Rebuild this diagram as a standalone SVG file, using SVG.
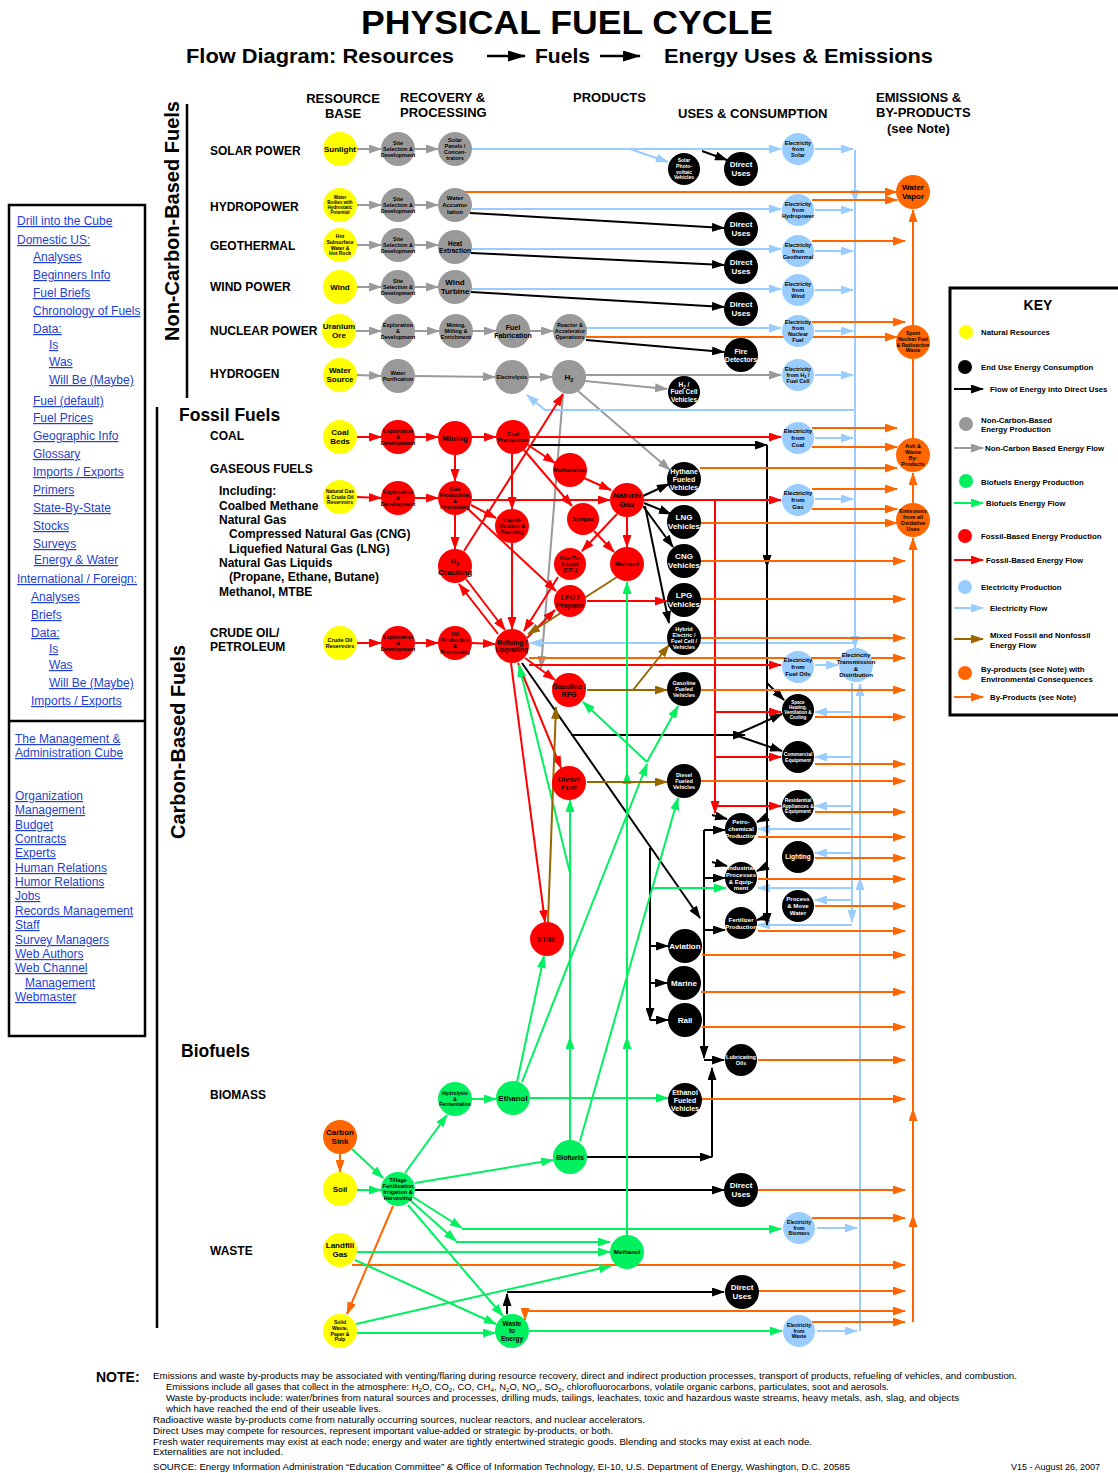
<svg xmlns="http://www.w3.org/2000/svg" width="1118" height="1473" viewBox="0 0 1118 1473">
<style>
text{font-family:"Liberation Sans",Arial,Helvetica,sans-serif}
.t{font-weight:bold;text-anchor:middle;fill:#000}
.w{fill:#fff}
.f45{font-size:4.5px}.f5{font-size:5px}.f55{font-size:5.5px}.f6{font-size:6px}.f65{font-size:6.5px}.f7{font-size:7px}.f75{font-size:7.5px}.f8{font-size:8px}
.cy{fill:#ffff00}.cg{fill:#999999}.cr{fill:#ff0000}.ck{fill:#000}.cb{fill:#99ccff}.cG{fill:#00f060}.co{fill:#ff6600}
.l{fill:none;stroke-width:2}
.lk{stroke:#000;marker-end:url(#mk)}
.lg{stroke:#9a9a9a;marker-end:url(#mg)}
.lr{stroke:#ff0000;marker-end:url(#mr)}
.lb{stroke:#99ccff;marker-end:url(#mb)}
.lo{stroke:#ff6600;marker-end:url(#mo)}
.lG{stroke:#00f060;marker-end:url(#mG)}
.ln{stroke:#996600;marker-end:url(#mn)}
.nm{marker-end:none}
.h1{font-weight:bold;font-size:13px}
.rl{font-weight:bold;font-size:12px}
.sec{font-weight:bold;font-size:17.5px}
.side{font-weight:bold;font-size:20px;text-anchor:middle}
.lnk{font-size:12px;fill:#1f3fcf;text-decoration:underline}
.key{font-weight:bold;font-size:7.8px}
.nt{font-size:9px}
</style>
<defs>
<marker id="mk" markerUnits="userSpaceOnUse" markerWidth="13" markerHeight="9" refX="12" refY="4.5" orient="auto" viewBox="0 0 13 9"><path d="M0,0L13,4.5L0,9z" fill="#000"/></marker>
<marker id="mg" markerUnits="userSpaceOnUse" markerWidth="13" markerHeight="9" refX="12" refY="4.5" orient="auto" viewBox="0 0 13 9"><path d="M0,0L13,4.5L0,9z" fill="#9a9a9a"/></marker>
<marker id="mr" markerUnits="userSpaceOnUse" markerWidth="13" markerHeight="9" refX="12" refY="4.5" orient="auto" viewBox="0 0 13 9"><path d="M0,0L13,4.5L0,9z" fill="#ff0000"/></marker>
<marker id="mb" markerUnits="userSpaceOnUse" markerWidth="13" markerHeight="9" refX="12" refY="4.5" orient="auto" viewBox="0 0 13 9"><path d="M0,0L13,4.5L0,9z" fill="#99ccff"/></marker>
<marker id="mo" markerUnits="userSpaceOnUse" markerWidth="13" markerHeight="9" refX="12" refY="4.5" orient="auto" viewBox="0 0 13 9"><path d="M0,0L13,4.5L0,9z" fill="#ff6600"/></marker>
<marker id="mG" markerUnits="userSpaceOnUse" markerWidth="13" markerHeight="9" refX="12" refY="4.5" orient="auto" viewBox="0 0 13 9"><path d="M0,0L13,4.5L0,9z" fill="#00f060"/></marker>
<marker id="mn" markerUnits="userSpaceOnUse" markerWidth="13" markerHeight="9" refX="12" refY="4.5" orient="auto" viewBox="0 0 13 9"><path d="M0,0L13,4.5L0,9z" fill="#996600"/></marker>
<marker id="mkb" markerUnits="userSpaceOnUse" markerWidth="18" markerHeight="11" refX="17" refY="5.5" orient="auto" viewBox="0 0 18 11"><path d="M0,0L18,5.5L0,11z" fill="#000"/></marker>
</defs>
<rect width="1118" height="1473" fill="#fff"/>

<!-- Titles -->
<g id="titles">
<text x="567" y="34" text-anchor="middle" font-weight="bold" font-size="33" textLength="412" lengthAdjust="spacingAndGlyphs">PHYSICAL FUEL CYCLE</text>
<text x="186" y="63" font-weight="bold" font-size="21" textLength="268" lengthAdjust="spacingAndGlyphs">Flow Diagram: Resources</text>
<text x="535" y="63" font-weight="bold" font-size="21" textLength="55" lengthAdjust="spacingAndGlyphs">Fuels</text>
<text x="664" y="63" font-weight="bold" font-size="21" textLength="269" lengthAdjust="spacingAndGlyphs">Energy Uses &amp; Emissions</text>
<path d="M487,56H525" stroke="#000" stroke-width="2.5" marker-end="url(#mkb)"/>
<path d="M600,56H640" stroke="#000" stroke-width="2.5" marker-end="url(#mkb)"/>
<text class="h1" x="343" y="103" text-anchor="middle">RESOURCE</text>
<text class="h1" x="343" y="118" text-anchor="middle">BASE</text>
<text class="h1" x="400" y="102">RECOVERY &amp;</text>
<text class="h1" x="400" y="117">PROCESSING</text>
<text class="h1" x="573" y="102">PRODUCTS</text>
<text class="h1" x="678" y="118">USES &amp; CONSUMPTION</text>
<text class="h1" x="876" y="102">EMISSIONS &amp;</text>
<text class="h1" x="876" y="117">BY-PRODUCTS</text>
<text class="h1" x="887" y="133">(see Note)</text>
<text class="side" transform="translate(179,221) rotate(-90)" textLength="240" lengthAdjust="spacingAndGlyphs">Non-Carbon-Based Fuels</text>
<text class="side" transform="translate(185,742) rotate(-90)" textLength="194" lengthAdjust="spacingAndGlyphs">Carbon-Based Fuels</text>
<path d="M187,104V398M157,407V1328" stroke="#000" stroke-width="2.5"/>
<text class="rl" x="210" y="155">SOLAR POWER</text>
<text class="rl" x="210" y="211">HYDROPOWER</text>
<text class="rl" x="210" y="250">GEOTHERMAL</text>
<text class="rl" x="210" y="291">WIND POWER</text>
<text class="rl" x="210" y="335">NUCLEAR POWER</text>
<text class="rl" x="210" y="378">HYDROGEN</text>
<text class="sec" x="179" y="421">Fossil Fuels</text>
<text class="rl" x="210" y="440">COAL</text>
<text class="rl" x="210" y="473">GASEOUS FUELS</text>
<text class="rl" x="219" y="495">Including:</text>
<text class="rl" x="219" y="510">Coalbed Methane</text>
<text class="rl" x="219" y="524">Natural Gas</text>
<text class="rl" x="229" y="538">Compressed Natural Gas (CNG)</text>
<text class="rl" x="229" y="553">Liquefied Natural Gas (LNG)</text>
<text class="rl" x="219" y="567">Natural Gas Liquids</text>
<text class="rl" x="229" y="581">(Propane, Ethane, Butane)</text>
<text class="rl" x="219" y="596">Methanol, MTBE</text>
<text class="rl" x="210" y="637">CRUDE OIL/</text>
<text class="rl" x="210" y="651">PETROLEUM</text>
<text class="sec" x="181" y="1057">Biofuels</text>
<text class="rl" x="210" y="1099">BIOMASS</text>
<text class="rl" x="210" y="1255">WASTE</text>
</g>

<!-- Sidebar -->
<g id="sidebar">
<rect x="9" y="205" width="136" height="831" fill="none" stroke="#000" stroke-width="2.5"/>
<path d="M9,721H145" stroke="#000" stroke-width="2.5"/>
<text class="lnk" x="17" y="225">Drill into the Cube</text>
<text class="lnk" x="17" y="244">Domestic US:</text>
<text class="lnk" x="33" y="261">Analyses</text>
<text class="lnk" x="33" y="279">Beginners Info</text>
<text class="lnk" x="33" y="297">Fuel Briefs</text>
<text class="lnk" x="33" y="315">Chronology of Fuels</text>
<text class="lnk" x="33" y="333">Data:</text>
<text class="lnk" x="49" y="349">Is</text>
<text class="lnk" x="49" y="366">Was</text>
<text class="lnk" x="49" y="384">Will Be (Maybe)</text>
<text class="lnk" x="33" y="405">Fuel (default)</text>
<text class="lnk" x="33" y="422">Fuel Prices</text>
<text class="lnk" x="33" y="440">Geographic Info</text>
<text class="lnk" x="33" y="458">Glossary</text>
<text class="lnk" x="33" y="476">Imports / Exports</text>
<text class="lnk" x="33" y="494">Primers</text>
<text class="lnk" x="33" y="512">State-By-State</text>
<text class="lnk" x="33" y="530">Stocks</text>
<text class="lnk" x="33" y="548">Surveys</text>
<text class="lnk" x="34" y="564">Energy &amp; Water</text>
<text class="lnk" x="17" y="583">International / Foreign:</text>
<text class="lnk" x="31" y="601">Analyses</text>
<text class="lnk" x="31" y="619">Briefs</text>
<text class="lnk" x="31" y="637">Data:</text>
<text class="lnk" x="49" y="653">Is</text>
<text class="lnk" x="49" y="669">Was</text>
<text class="lnk" x="49" y="687">Will Be (Maybe)</text>
<text class="lnk" x="31" y="705">Imports / Exports</text>
<text class="lnk" x="15" y="743">The Management &amp;</text>
<text class="lnk" x="15" y="757">Administration Cube</text>
<text class="lnk" x="15" y="800">Organization</text>
<text class="lnk" x="15" y="814">Management</text>
<text class="lnk" x="15" y="829">Budget</text>
<text class="lnk" x="15" y="843">Contracts</text>
<text class="lnk" x="15" y="857">Experts</text>
<text class="lnk" x="15" y="872">Human Relations</text>
<text class="lnk" x="15" y="886">Humor Relations</text>
<text class="lnk" x="15" y="900">Jobs</text>
<text class="lnk" x="15" y="915">Records Management</text>
<text class="lnk" x="15" y="929">Staff</text>
<text class="lnk" x="15" y="944">Survey Managers</text>
<text class="lnk" x="15" y="958">Web Authors</text>
<text class="lnk" x="15" y="972">Web Channel</text>
<text class="lnk" x="25" y="987">Management</text>
<text class="lnk" x="15" y="1001">Webmaster</text>
</g>

<!-- Connectors -->
<g id="connectors">
<!-- gray: non-carbon energy flow -->
<path class="l lg" d="M357,149H381"/><path class="l lg" d="M415,149H438"/>
<path class="l lg" d="M357,205H381"/><path class="l lg" d="M415,205H438"/>
<path class="l lg" d="M357,245H381"/><path class="l lg" d="M415,245H438"/>
<path class="l lg" d="M357,287H381"/><path class="l lg" d="M415,287H438"/>
<path class="l lg" d="M356,331H381"/><path class="l lg" d="M415,331H439"/><path class="l lg" d="M473,331H496"/><path class="l lg" d="M530,331H553"/>
<path class="l lg" d="M357,375L381,376"/><path class="l lg" d="M415,376L495,377"/><path class="l lg" d="M529,377H552"/>
<path class="l lg" d="M586,375H781"/><path class="l lg" d="M585,381L667,389"/><path class="l lg" d="M578,391L670,470"/><path class="l lg" d="M563,394L541,668"/>
<!-- light blue: electricity flow -->
<path class="l lb" d="M472,149H781"/><path class="l lb" d="M630,149L668,162"/><path class="l lb" d="M815,149H853"/>
<path class="l lb" d="M855,150V202"/><path class="l lb" d="M855,202V648"/>
<path class="l lb" d="M472,209H781"/><path class="l lb" d="M815,210H853"/>
<path class="l lb" d="M472,249H781"/><path class="l lb" d="M815,251H853"/>
<path class="l lb" d="M472,289H781"/><path class="l lb" d="M815,290H853"/>
<path class="l lb" d="M586,328H781"/><path class="l lb" d="M815,331H853"/>
<path class="l lb" d="M815,375H853"/>
<path class="l lb" d="M855,410H545L527,395"/>
<path class="l lb" d="M815,438H853"/><path class="l lb" d="M815,499H853"/>
<path class="l lb" d="M855,643H530"/><path class="l lb" d="M815,665H838"/>
<path class="l lb" d="M852,683V922"/>
<path class="l lb" d="M852,712H815"/><path class="l lb" d="M852,757H815"/><path class="l lb" d="M852,806H815"/><path class="l lb" d="M852,829H758"/>
<path class="l lb" d="M852,853H815"/><path class="l lb" d="M852,888H758"/><path class="l lb" d="M852,900H815"/><path class="l lb" d="M852,925H758"/>
<path class="l lb" d="M860,1331V878"/><path class="l lb" d="M860,878V684"/>
<path class="l lb" d="M817,1228H857"/><path class="l lb" d="M817,1331H857"/>
<!-- black: flow into direct uses -->
<path class="l lk" d="M702,151L727,160"/>
<path class="l lk" d="M470,213L724,228"/><path class="l lk" d="M471,253L724,265"/><path class="l lk" d="M471,292L724,307"/><path class="l lk" d="M586,340L724,352"/>
<path class="l lk" d="M530,445H767"/><path class="l lk" d="M767,445V567"/><path class="l lk" d="M767,567V925"/>
<path class="l lk" d="M767,683L784,700"/><path class="l lk" d="M767,817L757,822"/><path class="l lk" d="M767,866L757,871"/><path class="l lk" d="M767,917L757,920"/>
<path class="l lk" d="M643,496L669,484"/><path class="l lk" d="M644,503L671,514"/><path class="l lk" d="M643,506L673,547"/><path class="l lk" d="M645,506L669,623"/>
<path class="l lk" d="M522,663L700,918"/>
<path class="l lk" d="M571,735H745"/><path class="l lk" d="M735,735L782,714"/><path class="l lk" d="M735,735L782,751"/>
<path class="l lk" d="M704,830V1058"/><path class="l lk" d="M704,830H725"/><path class="l lk" d="M704,878H725"/><path class="l lk" d="M704,930H725"/><path class="l lk" d="M704,1060H724"/>
<path class="l lk" d="M650,848V1020"/><path class="l lk" d="M650,946H668"/><path class="l lk" d="M650,983H667"/><path class="l lk" d="M650,1020H668"/>
<path class="l lk" d="M587,1157H712"/><path class="l lk" d="M712,1157V1068"/>
<path class="l lk" d="M415,1190H724"/>
<path class="l lk" d="M507,1314V1294"/><path class="l lk" d="M507,1292H724"/>
<path class="l lk" d="M712,815L727,819"/><path class="l lk" d="M712,862L727,866"/>
<!-- red: fossil flow -->
<path class="l lr" d="M357,437H381"/><path class="l lr" d="M415,437H438"/><path class="l lr" d="M472,437H496"/>
<path class="l lr" d="M357,497L381,498"/><path class="l lr" d="M415,498H438"/>
<path class="l lr" d="M357,643H381"/><path class="l lr" d="M415,643H438"/><path class="l lr" d="M472,643L495,644"/>
<path class="l lr" d="M455,455V481"/><path class="l lr" d="M455,515V549"/>
<path class="l lr" d="M512,454V509"/><path class="l lr" d="M512,543V629"/>
<path class="l lr" d="M471,505L496,518"/><path class="l lr" d="M468,509L556,591"/><path class="l lr" d="M472,500H610"/>
<path class="l lr" d="M530,437H781"/><path class="l lr" d="M528,445L555,463"/><path class="l lr" d="M524,450L572,506"/>
<path class="l lr" d="M584,478L611,490"/><path class="l lr" d="M594,531L614,552"/><path class="l lr" d="M617,514L582,551"/><path class="l lr" d="M627,517V547"/>
<path class="l lr" d="M558,577L524,631"/><path class="l lr" d="M527,638L555,610"/><path class="l lr" d="M587,601H667"/>
<path class="l lr" d="M464,551L563,394"/><path class="l lr" d="M466,579L505,630"/><path class="l lr" d="M498,634L459,584"/>
<path class="l lr" d="M643,500H781"/>
<path class="l lr" d="M715,500V813"/><path class="l lr" d="M715,712H781"/><path class="l lr" d="M715,757H781"/><path class="l lr" d="M715,806H781"/>
<path class="l lr" d="M525,658L555,680"/><path class="l lr" d="M518,663L561,768"/><path class="l lr" d="M511,663L545,922"/><path class="l lr" d="M529,665H781"/>
<!-- orange: by-products -->
<path class="l lo" d="M465,192H897"/><path class="l lo" d="M812,200H897"/><path class="l lo" d="M812,241H905"/><path class="l lo" d="M812,322H905"/><path class="l lo" d="M586,337H897"/>
<path class="l lo" d="M913,325V210"/><path class="l lo nm" d="M913,438V359"/>
<path class="l lo" d="M913,1322V1215"/><path class="l lo" d="M913,1215V1109"/><path class="l lo" d="M913,1109V538"/><path class="l lo" d="M913,503V473"/>
<path class="l lo" d="M812,428H897"/><path class="l lo" d="M812,447H897"/><path class="l lo" d="M700,468H897"/>
<path class="l lo" d="M812,489H897"/><path class="l lo" d="M812,509H897"/><path class="l lo" d="M701,523H897"/>
<path class="l lo" d="M701,561H905"/><path class="l lo" d="M701,599H905"/><path class="l lo" d="M701,638H905"/><path class="l lo" d="M529,658H905"/>
<path class="l lo" d="M701,690H905"/><path class="l lo" d="M815,717H905"/><path class="l lo" d="M815,764H905"/><path class="l lo" d="M701,781H905"/>
<path class="l lo" d="M815,812H905"/><path class="l lo" d="M758,837H905"/><path class="l lo" d="M815,858H905"/><path class="l lo" d="M758,879H905"/>
<path class="l lo" d="M815,906H905"/><path class="l lo" d="M758,931H905"/><path class="l lo" d="M702,955H905"/><path class="l lo" d="M701,992H905"/>
<path class="l lo" d="M702,1027H905"/><path class="l lo" d="M758,1060H905"/><path class="l lo" d="M702,1099H905"/><path class="l lo" d="M758,1190H905"/>
<path class="l lo" d="M812,1218H905"/><path class="l lo" d="M352,1265H905"/><path class="l lo" d="M759,1291H905"/>
<path class="l lo" d="M525,1311H905"/><path class="l lo" d="M525,1311V1320"/><path class="l lo" d="M812,1322H905"/>
<path class="l lo" d="M340,1154V1172"/><path class="l lo" d="M393,1206L347,1314"/>
<!-- green: biofuels flow -->
<path class="l lG" d="M352,1149L383,1178"/><path class="l lG" d="M357,1190H381"/><path class="l lG" d="M405,1173L447,1115"/><path class="l lG" d="M472,1099H496"/>
<path class="l lG" d="M415,1183L553,1160"/>
<path class="l lG" d="M413,1197L462,1228"/><path class="l lG" d="M462,1229H781"/>
<path class="l lG" d="M411,1201L456,1241"/><path class="l lG" d="M456,1242H610"/>
<path class="l lG" d="M357,1252H610"/><path class="l lG" d="M355,1260L496,1324"/><path class="l lG" d="M408,1205L503,1316"/>
<path class="l lG" d="M356,1324L611,1266"/><path class="l lG" d="M357,1333H495"/><path class="l lG" d="M529,1331H782"/>
<path class="l lG" d="M530,1098H668"/><path class="l lG" d="M517,1082L544,956"/>
<path class="l lG" d="M522,1082L647,764"/><path class="l lG" d="M647,762L678,706"/><path class="l lG" d="M647,762L583,702"/>
<path class="l lG" d="M570,1140V1037"/><path class="l lG" d="M570,1037V800"/>
<path class="l lG" d="M580,1141L678,798"/><path class="l lG" d="M570,873L519,665"/>
<path class="l lG" d="M627,1235V1037"/><path class="l lG" d="M627,1037V772"/><path class="l lG" d="M627,772V582"/>
<path class="l lG" d="M651,888H726"/>
<!-- brown: mixed flow -->
<path class="l ln" d="M617,577L528,634"/><path class="l ln" d="M587,690H667"/><path class="l ln" d="M633,690L669,645"/><path class="l ln" d="M548,922L556,707"/><path class="l ln" d="M587,782H667"/>
</g>

<!-- Nodes: non-carbon -->
<g id="n-sunlight"><circle class="cy" cx="340" cy="149" r="17"/><text class="t f8" x="340" y="151.9">Sunlight</text></g>
<g id="n-site1"><circle class="cg" cx="398" cy="149" r="17"/><text class="t f55" x="398" y="144.7"><tspan x="398">Site</tspan><tspan x="398" dy="6.3">Selection &amp;</tspan><tspan x="398" dy="6.3">Development</tspan></text></g>
<g id="n-solar-panels"><circle class="cg" cx="455" cy="149" r="17"/><text class="t f55" x="455" y="141.5"><tspan x="455">Solar</tspan><tspan x="455" dy="6.3">Panels /</tspan><tspan x="455" dy="6.3">Concen-</tspan><tspan x="455" dy="6.3">trators</tspan></text></g>
<g id="n-water-bodies"><circle class="cy" cx="340" cy="205" r="17"/><text class="t f45" x="340" y="198.8"><tspan x="340">Water</tspan><tspan x="340" dy="5.2">Bodies with</tspan><tspan x="340" dy="5.2">Hydrostatic</tspan><tspan x="340" dy="5.2">Potential</tspan></text></g>
<g id="n-site2"><circle class="cg" cx="398" cy="205" r="17"/><text class="t f55" x="398" y="200.7"><tspan x="398">Site</tspan><tspan x="398" dy="6.3">Selection &amp;</tspan><tspan x="398" dy="6.3">Development</tspan></text></g>
<g id="n-water-accum"><circle class="cg" cx="455" cy="205" r="17"/><text class="t f6" x="455" y="200.3"><tspan x="455">Water</tspan><tspan x="455" dy="6.8">Accumu-</tspan><tspan x="455" dy="6.8">lation</tspan></text></g>
<g id="n-hot-rock"><circle class="cy" cx="340" cy="245" r="17"/><text class="t f5" x="340" y="238.4"><tspan x="340">Hot</tspan><tspan x="340" dy="5.6">Subsurface</tspan><tspan x="340" dy="5.6">Water &amp;</tspan><tspan x="340" dy="5.6">Hot Rock</tspan></text></g>
<g id="n-site3"><circle class="cg" cx="398" cy="245" r="17"/><text class="t f55" x="398" y="240.7"><tspan x="398">Site</tspan><tspan x="398" dy="6.3">Selection &amp;</tspan><tspan x="398" dy="6.3">Development</tspan></text></g>
<g id="n-heat-ext"><circle class="cg" cx="455" cy="247" r="17"/><text class="t f65" x="455" y="245.7"><tspan x="455">Heat</tspan><tspan x="455" dy="7.2">Extraction</tspan></text></g>
<g id="n-wind"><circle class="cy" cx="340" cy="287" r="17"/><text class="t f8" x="340" y="289.9">Wind</text></g>
<g id="n-site4"><circle class="cg" cx="398" cy="287" r="17"/><text class="t f55" x="398" y="282.7"><tspan x="398">Site</tspan><tspan x="398" dy="6.3">Selection &amp;</tspan><tspan x="398" dy="6.3">Development</tspan></text></g>
<g id="n-wind-turbine"><circle class="cg" cx="455" cy="287" r="17"/><text class="t f8" x="455" y="285.4"><tspan x="455">Wind</tspan><tspan x="455" dy="9">Turbine</tspan></text></g>
<g id="n-uranium"><circle class="cy" cx="339" cy="331" r="17"/><text class="t f8" x="339" y="329.4"><tspan x="339">Uranium</tspan><tspan x="339" dy="9">Ore</tspan></text></g>
<g id="n-expl-n"><circle class="cg" cx="398" cy="331" r="17"/><text class="t f55" x="398" y="326.7"><tspan x="398">Exploration</tspan><tspan x="398" dy="6.3">&amp;</tspan><tspan x="398" dy="6.3">Development</tspan></text></g>
<g id="n-mining-n"><circle class="cg" cx="456" cy="331" r="17"/><text class="t f55" x="456" y="326.7"><tspan x="456">Mining,</tspan><tspan x="456" dy="6.3">Milling &amp;</tspan><tspan x="456" dy="6.3">Enrichment</tspan></text></g>
<g id="n-fuel-fab"><circle class="cg" cx="513" cy="331" r="17"/><text class="t f7" x="513" y="329.5"><tspan x="513">Fuel</tspan><tspan x="513" dy="8">Fabrication</tspan></text></g>
<g id="n-reactor"><circle class="cg" cx="570" cy="331" r="17"/><text class="t f55" x="570" y="326.7"><tspan x="570">Reactor &amp;</tspan><tspan x="570" dy="6.3">Accelerator</tspan><tspan x="570" dy="6.3">Operations</tspan></text></g>
<g id="n-water-source"><circle class="cy" cx="340" cy="375" r="17"/><text class="t f8" x="340" y="373.4"><tspan x="340">Water</tspan><tspan x="340" dy="9">Source</tspan></text></g>
<g id="n-water-purif"><circle class="cg" cx="398" cy="376" r="17"/><text class="t f55" x="398" y="374.8"><tspan x="398">Water</tspan><tspan x="398" dy="6.3">Purification</tspan></text></g>
<g id="n-electrolysis"><circle class="cg" cx="512" cy="377" r="17"/><text class="t f55" x="512" y="379">Electrolysis</text></g>
<g id="n-h2"><circle class="cg" cx="569" cy="377" r="17"/><text class="t f8" x="569" y="380">H<tspan font-size="5.5" dy="2">2</tspan></text></g>
<g id="n-pv-vehicles"><circle class="ck" cx="684" cy="169" r="16"/><text class="t w f5" x="684" y="162.4"><tspan x="684">Solar</tspan><tspan x="684" dy="5.6">Photo-</tspan><tspan x="684" dy="5.6">voltaic</tspan><tspan x="684" dy="5.6">Vehicles</tspan></text></g>
<g id="n-direct1"><circle class="ck" cx="741" cy="169" r="17"/><text class="t w f8" x="741" y="167.4"><tspan x="741">Direct</tspan><tspan x="741" dy="9">Uses</tspan></text></g>
<g id="n-elec-solar"><circle class="cb" cx="798" cy="149" r="16"/><text class="t f55" x="798" y="144.7"><tspan x="798">Electricity</tspan><tspan x="798" dy="6.3">from</tspan><tspan x="798" dy="6.3">Solar</tspan></text></g>
<g id="n-direct2"><circle class="ck" cx="741" cy="229" r="17"/><text class="t w f8" x="741" y="227.4"><tspan x="741">Direct</tspan><tspan x="741" dy="9">Uses</tspan></text></g>
<g id="n-elec-hydro"><circle class="cb" cx="798" cy="210" r="16"/><text class="t f55" x="798" y="205.7"><tspan x="798">Electricity</tspan><tspan x="798" dy="6.3">from</tspan><tspan x="798" dy="6.3">Hydropower</tspan></text></g>
<g id="n-direct3"><circle class="ck" cx="741" cy="267" r="17"/><text class="t w f8" x="741" y="265.4"><tspan x="741">Direct</tspan><tspan x="741" dy="9">Uses</tspan></text></g>
<g id="n-elec-geo"><circle class="cb" cx="798" cy="251" r="16"/><text class="t f55" x="798" y="246.7"><tspan x="798">Electricity</tspan><tspan x="798" dy="6.3">from</tspan><tspan x="798" dy="6.3">Geothermal</tspan></text></g>
<g id="n-direct4"><circle class="ck" cx="741" cy="309" r="17"/><text class="t w f8" x="741" y="307.4"><tspan x="741">Direct</tspan><tspan x="741" dy="9">Uses</tspan></text></g>
<g id="n-elec-wind"><circle class="cb" cx="798" cy="290" r="16"/><text class="t f55" x="798" y="285.7"><tspan x="798">Electricity</tspan><tspan x="798" dy="6.3">from</tspan><tspan x="798" dy="6.3">Wind</tspan></text></g>
<g id="n-fire"><circle class="ck" cx="741" cy="355" r="17"/><text class="t w f7" x="741" y="353.5"><tspan x="741">Fire</tspan><tspan x="741" dy="8">Detectors</tspan></text></g>
<g id="n-elec-nuclear"><circle class="cb" cx="798" cy="331" r="16"/><text class="t f55" x="798" y="323.5"><tspan x="798">Electricity</tspan><tspan x="798" dy="6.3">from</tspan><tspan x="798" dy="6.3">Nuclear</tspan><tspan x="798" dy="6.3">Fuel</tspan></text></g>
<g id="n-h2-fc-vehicles"><circle class="ck" cx="684" cy="392" r="16"/><text class="t w f65" x="684" y="387.1"><tspan x="684">H<tspan font-size="4.5" dy="1.5">2</tspan><tspan dy="-1.5"> /</tspan></tspan><tspan x="684" dy="7.2">Fuel Cell</tspan><tspan x="684" dy="7.2">Vehicles</tspan></text></g>
<g id="n-elec-h2"><circle class="cb" cx="798" cy="375" r="16"/><text class="t f55" x="798" y="370.7"><tspan x="798">Electricity</tspan><tspan x="798" dy="6.3">from H<tspan font-size="4" dy="1.2">2</tspan><tspan dy="-1.2"> /</tspan></tspan><tspan x="798" dy="6.3">Fuel Cell</tspan></text></g>
<g id="n-water-vapor"><circle class="co" cx="913" cy="192" r="17"/><text class="t f8" x="913" y="190.4"><tspan x="913">Water</tspan><tspan x="913" dy="9">Vapor</tspan></text></g>
<g id="n-spent-nuclear"><circle class="co" cx="913" cy="342" r="17"/><text class="t f5" x="913" y="335.4"><tspan x="913">Spent</tspan><tspan x="913" dy="5.6">Nuclear Fuel</tspan><tspan x="913" dy="5.6">&amp; Radioactive</tspan><tspan x="913" dy="5.6">Waste</tspan></text></g>

<!-- Nodes: fossil -->
<g id="n-coal-beds"><circle class="cy" cx="340" cy="437" r="17"/><text class="t f8" x="340" y="435.4"><tspan x="340">Coal</tspan><tspan x="340" dy="9">Beds</tspan></text></g>
<g id="n-expl-c"><circle class="cr" cx="398" cy="437" r="17"/><text class="t f55" x="398" y="432.7"><tspan x="398">Exploration</tspan><tspan x="398" dy="6.3">&amp;</tspan><tspan x="398" dy="6.3">Development</tspan></text></g>
<g id="n-mining-c"><circle class="cr" cx="455" cy="438" r="17"/><text class="t f8" x="455" y="440.9">Mining</text></g>
<g id="n-coal-prep"><circle class="cr" cx="513" cy="437" r="17"/><text class="t f55" x="513" y="435.8"><tspan x="513">Coal</tspan><tspan x="513" dy="6.3">Preparation</tspan></text></g>
<g id="n-gas-res"><circle class="cy" cx="340" cy="497" r="17"/><text class="t f5" x="340" y="493.2"><tspan x="340">Natural Gas</tspan><tspan x="340" dy="5.6">&amp; Crude Oil</tspan><tspan x="340" dy="5.6">Reservoirs</tspan></text></g>
<g id="n-expl-g"><circle class="cr" cx="398" cy="498" r="17"/><text class="t f55" x="398" y="493.7"><tspan x="398">Exploration</tspan><tspan x="398" dy="6.3">&amp;</tspan><tspan x="398" dy="6.3">Development</tspan></text></g>
<g id="n-gas-prod"><circle class="cr" cx="455" cy="498" r="17"/><text class="t f55" x="455" y="490.5"><tspan x="455">Gas</tspan><tspan x="455" dy="6.3">Production,</tspan><tspan x="455" dy="6.3">&amp;</tspan><tspan x="455" dy="6.3">Processing</tspan></text></g>
<g id="n-methanation"><circle class="cr" cx="570" cy="470" r="17"/><text class="t f55" x="570" y="472">Methanation</text></g>
<g id="n-natural-gas"><circle class="cr" cx="627" cy="500" r="17"/><text class="t f8" x="627" y="498.4"><tspan x="627">Natural</tspan><tspan x="627" dy="9">Gas</tspan></text></g>
<g id="n-syngas"><circle class="cr" cx="583" cy="519" r="16"/><text class="t f6" x="583" y="521">Syngas</text></g>
<g id="n-liquif"><circle class="cr" cx="512" cy="526" r="17"/><text class="t f55" x="512" y="521.7"><tspan x="512">Liquid-</tspan><tspan x="512" dy="6.3">ification &amp;</tspan><tspan x="512" dy="6.3">Blending</tspan></text></g>
<g id="n-h2-cracking"><circle class="cr" cx="455" cy="566" r="17"/><text class="t f8" x="455" y="564.4"><tspan x="455">H<tspan font-size="5.5" dy="2">2</tspan></tspan><tspan x="455" dy="9">Cracking</tspan></text></g>
<g id="n-gtl"><circle class="cr" cx="570" cy="564" r="16"/><text class="t f55" x="570" y="559.7"><tspan x="570">Gas-To-</tspan><tspan x="570" dy="6.3">Liquid</tspan><tspan x="570" dy="6.3">(GTL)</tspan></text></g>
<g id="n-methanol-r"><circle class="cr" cx="627" cy="564" r="17"/><text class="t f55" x="627" y="566">Methanol</text></g>
<g id="n-lpg"><circle class="cr" cx="570" cy="601" r="16"/><text class="t f7" x="570" y="599.5"><tspan x="570">LPG /</tspan><tspan x="570" dy="8">Propane</tspan></text></g>
<g id="n-crude-res"><circle class="cy" cx="340" cy="643" r="17"/><text class="t f55" x="340" y="641.8"><tspan x="340">Crude Oil</tspan><tspan x="340" dy="6.3">Reservoirs</tspan></text></g>
<g id="n-expl-o"><circle class="cr" cx="398" cy="643" r="17"/><text class="t f55" x="398" y="638.7"><tspan x="398">Exploration</tspan><tspan x="398" dy="6.3">&amp;</tspan><tspan x="398" dy="6.3">Development</tspan></text></g>
<g id="n-oil-prod"><circle class="cr" cx="455" cy="643" r="17"/><text class="t f55" x="455" y="635.5"><tspan x="455">Oil</tspan><tspan x="455" dy="6.3">Production</tspan><tspan x="455" dy="6.3">&amp;</tspan><tspan x="455" dy="6.3">Processing</tspan></text></g>
<g id="n-refining"><circle class="cr" cx="512" cy="646" r="17"/><text class="t f65" x="512" y="644.7"><tspan x="512">Refining /</tspan><tspan x="512" dy="7.2">Upgrading</tspan></text></g>
<g id="n-gasoline"><circle class="cr" cx="569" cy="690" r="17"/><text class="t f7" x="569" y="688.5"><tspan x="569">Gasoline /</tspan><tspan x="569" dy="8">RFG</tspan></text></g>
<g id="n-diesel"><circle class="cr" cx="569" cy="783" r="17"/><text class="t f75" x="569" y="781.5"><tspan x="569">Diesel</tspan><tspan x="569" dy="8.3">Fuel</tspan></text></g>
<g id="n-etbe"><circle class="cr" cx="547" cy="939" r="17"/><text class="t f7" x="547" y="941.5">ETBE</text></g>

<!-- Nodes: end uses -->
<g id="n-hythane"><circle class="ck" cx="684" cy="479" r="17"/><text class="t w f7" x="684" y="473.5"><tspan x="684">Hythane</tspan><tspan x="684" dy="8">Fueled</tspan><tspan x="684" dy="8">Vehicles</tspan></text></g>
<g id="n-lng-veh"><circle class="ck" cx="684" cy="522" r="17"/><text class="t w f8" x="684" y="520.4"><tspan x="684">LNG</tspan><tspan x="684" dy="9">Vehicles</tspan></text></g>
<g id="n-cng-veh"><circle class="ck" cx="684" cy="561" r="17"/><text class="t w f8" x="684" y="559.4"><tspan x="684">CNG</tspan><tspan x="684" dy="9">Vehicles</tspan></text></g>
<g id="n-lpg-veh"><circle class="ck" cx="684" cy="600" r="17"/><text class="t w f8" x="684" y="598.4"><tspan x="684">LPG</tspan><tspan x="684" dy="9">Vehicles</tspan></text></g>
<g id="n-hybrid"><circle class="ck" cx="684" cy="638" r="17"/><text class="t w f55" x="684" y="630.5"><tspan x="684">Hybrid</tspan><tspan x="684" dy="6.3">Electric /</tspan><tspan x="684" dy="6.3">Fuel Cell /</tspan><tspan x="684" dy="6.3">Vehicles</tspan></text></g>
<g id="n-gasoline-veh"><circle class="ck" cx="684" cy="689" r="17"/><text class="t w f55" x="684" y="684.7"><tspan x="684">Gasoline</tspan><tspan x="684" dy="6.3">Fueled</tspan><tspan x="684" dy="6.3">Vehicles</tspan></text></g>
<g id="n-diesel-veh"><circle class="ck" cx="684" cy="781" r="17"/><text class="t w f55" x="684" y="776.7"><tspan x="684">Diesel</tspan><tspan x="684" dy="6.3">Fueled</tspan><tspan x="684" dy="6.3">Vehicles</tspan></text></g>
<g id="n-space-heating"><circle class="ck" cx="798" cy="710" r="16"/><text class="t w f45" x="798" y="703.8"><tspan x="798">Space</tspan><tspan x="798" dy="5.2">Heating,</tspan><tspan x="798" dy="5.2">Ventilation &amp;</tspan><tspan x="798" dy="5.2">Cooling</tspan></text></g>
<g id="n-commercial"><circle class="ck" cx="798" cy="757" r="16"/><text class="t w f5" x="798" y="756"><tspan x="798">Commercial</tspan><tspan x="798" dy="5.6">Equipment</tspan></text></g>
<g id="n-residential"><circle class="ck" cx="798" cy="806" r="16"/><text class="t w f5" x="798" y="802.2"><tspan x="798">Residential</tspan><tspan x="798" dy="5.6">Appliances &amp;</tspan><tspan x="798" dy="5.6">Equipment</tspan></text></g>
<g id="n-petro"><circle class="ck" cx="741" cy="829" r="16"/><text class="t w f6" x="741" y="824.3"><tspan x="741">Petro-</tspan><tspan x="741" dy="6.8">chemical</tspan><tspan x="741" dy="6.8">Production</tspan></text></g>
<g id="n-lighting"><circle class="ck" cx="798" cy="857" r="16"/><text class="t w f65" x="798" y="859.3">Lighting</text></g>
<g id="n-industrial"><circle class="ck" cx="741" cy="878" r="16"/><text class="t w f6" x="741" y="869.9"><tspan x="741">Industrial</tspan><tspan x="741" dy="6.8">Processes</tspan><tspan x="741" dy="6.8">&amp; Equip-</tspan><tspan x="741" dy="6.8">ment</tspan></text></g>
<g id="n-process-water"><circle class="ck" cx="798" cy="906" r="16"/><text class="t w f6" x="798" y="901.3"><tspan x="798">Process</tspan><tspan x="798" dy="6.8">&amp; Move</tspan><tspan x="798" dy="6.8">Water</tspan></text></g>
<g id="n-fertilizer"><circle class="ck" cx="741" cy="923" r="16"/><text class="t w f6" x="741" y="921.7"><tspan x="741">Fertilizer</tspan><tspan x="741" dy="6.8">Production</tspan></text></g>
<g id="n-aviation"><circle class="ck" cx="685" cy="946" r="17"/><text class="t w f8" x="685" y="948.9">Aviation</text></g>
<g id="n-marine"><circle class="ck" cx="684" cy="983" r="17"/><text class="t w f8" x="684" y="985.9">Marine</text></g>
<g id="n-rail"><circle class="ck" cx="685" cy="1020" r="17"/><text class="t w f8" x="685" y="1022.9">Rail</text></g>
<g id="n-lubricating"><circle class="ck" cx="741" cy="1060" r="16"/><text class="t w f55" x="741" y="1058.8"><tspan x="741">Lubricating</tspan><tspan x="741" dy="6.3">Oils</tspan></text></g>
<g id="n-ethanol-veh"><circle class="ck" cx="685" cy="1100" r="17"/><text class="t w f7" x="685" y="1094.5"><tspan x="685">Ethanol</tspan><tspan x="685" dy="8">Fueled</tspan><tspan x="685" dy="8">Vehicles</tspan></text></g>
<g id="n-direct5"><circle class="ck" cx="741" cy="1190" r="17"/><text class="t w f8" x="741" y="1188.4"><tspan x="741">Direct</tspan><tspan x="741" dy="9">Uses</tspan></text></g>
<g id="n-direct6"><circle class="ck" cx="742" cy="1292" r="17"/><text class="t w f8" x="742" y="1290.4"><tspan x="742">Direct</tspan><tspan x="742" dy="9">Uses</tspan></text></g>

<!-- Nodes: electricity -->
<g id="n-elec-coal"><circle class="cb" cx="798" cy="438" r="16"/><text class="t f6" x="798" y="433.3"><tspan x="798">Electricity</tspan><tspan x="798" dy="6.8">from</tspan><tspan x="798" dy="6.8">Coal</tspan></text></g>
<g id="n-elec-gas"><circle class="cb" cx="798" cy="500" r="16"/><text class="t f6" x="798" y="495.3"><tspan x="798">Electricity</tspan><tspan x="798" dy="6.8">from</tspan><tspan x="798" dy="6.8">Gas</tspan></text></g>
<g id="n-elec-fuel-oils"><circle class="cb" cx="798" cy="667" r="16"/><text class="t f6" x="798" y="662.3"><tspan x="798">Electricity</tspan><tspan x="798" dy="6.8">from</tspan><tspan x="798" dy="6.8">Fuel Oils</tspan></text></g>
<g id="n-transmission"><circle class="cb" cx="856" cy="665" r="17"/><text class="t f6" x="856" y="656.9"><tspan x="856">Electricity</tspan><tspan x="856" dy="6.8">Transmission</tspan><tspan x="856" dy="6.8">&amp;</tspan><tspan x="856" dy="6.8">Distribution</tspan></text></g>
<g id="n-elec-biomass"><circle class="cb" cx="799" cy="1228" r="16"/><text class="t f5" x="799" y="1224.2"><tspan x="799">Electricity</tspan><tspan x="799" dy="5.6">from</tspan><tspan x="799" dy="5.6">Biomass</tspan></text></g>
<g id="n-elec-waste"><circle class="cb" cx="799" cy="1331" r="16"/><text class="t f5" x="799" y="1327.2"><tspan x="799">Electricity</tspan><tspan x="799" dy="5.6">from</tspan><tspan x="799" dy="5.6">Waste</tspan></text></g>

<!-- Nodes: by-products -->
<g id="n-ash"><circle class="co" cx="913" cy="455" r="17"/><text class="t f55" x="913" y="447.5"><tspan x="913">Ash &amp;</tspan><tspan x="913" dy="6.3">Waste</tspan><tspan x="913" dy="6.3">By-</tspan><tspan x="913" dy="6.3">Products</tspan></text></g>
<g id="n-emissions"><circle class="co" cx="913" cy="520" r="17"/><text class="t f55" x="913" y="512.5"><tspan x="913">Emissions</tspan><tspan x="913" dy="6.3">from all</tspan><tspan x="913" dy="6.3">Oxidative</tspan><tspan x="913" dy="6.3">Uses</tspan></text></g>
<g id="n-carbon-sink"><circle class="co" cx="340" cy="1137" r="17"/><text class="t f8" x="340" y="1135.4"><tspan x="340">Carbon</tspan><tspan x="340" dy="9">Sink</tspan></text></g>

<!-- Nodes: biofuels -->
<g id="n-hydrolysis"><circle class="cG" cx="455" cy="1099" r="17"/><text class="t f5" x="455" y="1095.2"><tspan x="455">Hydrolysis</tspan><tspan x="455" dy="5.6">&amp;</tspan><tspan x="455" dy="5.6">Fermentation</tspan></text></g>
<g id="n-ethanol"><circle class="cG" cx="513" cy="1098" r="17"/><text class="t f8" x="513" y="1100.9">Ethanol</text></g>
<g id="n-biofuels"><circle class="cG" cx="570" cy="1157" r="17"/><text class="t f7" x="570" y="1159.5">Biofuels</text></g>
<g id="n-tillage"><circle class="cG" cx="398" cy="1189" r="17"/><text class="t f55" x="398" y="1181.5"><tspan x="398">Tillage</tspan><tspan x="398" dy="6.3">Fertilization</tspan><tspan x="398" dy="6.3">Irrigation &amp;</tspan><tspan x="398" dy="6.3">Harvesting</tspan></text></g>
<g id="n-methanol-g"><circle class="cG" cx="627" cy="1252" r="17"/><text class="t f6" x="627" y="1254.1">Methanol</text></g>
<g id="n-waste-energy"><circle class="cG" cx="512" cy="1331" r="17"/><text class="t f65" x="512" y="1326.1"><tspan x="512">Waste</tspan><tspan x="512" dy="7.2">to</tspan><tspan x="512" dy="7.2">Energy</tspan></text></g>
<g id="n-soil"><circle class="cy" cx="340" cy="1189" r="17"/><text class="t f8" x="340" y="1191.9">Soil</text></g>
<g id="n-landfill"><circle class="cy" cx="340" cy="1250" r="17"/><text class="t f8" x="340" y="1248.4"><tspan x="340">Landfill</tspan><tspan x="340" dy="9">Gas</tspan></text></g>
<g id="n-solid-waste"><circle class="cy" cx="340" cy="1331" r="17"/><text class="t f5" x="340" y="1324.4"><tspan x="340">Solid</tspan><tspan x="340" dy="5.6">Waste,</tspan><tspan x="340" dy="5.6">Paper &amp;</tspan><tspan x="340" dy="5.6">Pulp</tspan></text></g>

<!-- Key -->
<g id="key">
<rect x="950" y="288" width="172" height="427" fill="#fff" stroke="#000" stroke-width="3"/>
<text x="1038" y="310" text-anchor="middle" font-weight="bold" font-size="14">KEY</text>
<circle cx="966" cy="332" r="7" fill="#ffff00"/><text class="key" x="981" y="335">Natural Resources</text>
<circle cx="965" cy="367" r="7" fill="#000"/><text class="key" x="981" y="370">End Use Energy Consumption</text>
<path d="M954,389H983" class="l lk"/><text class="key" x="990" y="392">Flow of Energy into Direct Uses</text>
<circle cx="966" cy="424" r="7" fill="#999"/><text class="key" x="981" y="423">Non-Carbon-Based</text><text class="key" x="981" y="432">Energy Production</text>
<path d="M954,448H983" class="l lg"/><text class="key" x="985" y="451">Non-Carbon Based Energy Flow</text>
<circle cx="966" cy="481" r="7" fill="#00f060"/><text class="key" x="981" y="485">Biofuels Energy Production</text>
<path d="M954,503H983" class="l lG"/><text class="key" x="986" y="506">Biofuels Energy Flow</text>
<circle cx="965" cy="536" r="7" fill="#ff0000"/><text class="key" x="981" y="539">Fossil-Based Energy Production</text>
<path d="M954,560H983" class="l lr"/><text class="key" x="986" y="563">Fossil-Based Energy Flow</text>
<circle cx="965" cy="587" r="7" fill="#99ccff"/><text class="key" x="981" y="590">Electricity Production</text>
<path d="M954,608H983" class="l lb"/><text class="key" x="990" y="611">Electricity Flow</text>
<path d="M954,639H983" class="l ln"/><text class="key" x="990" y="638">Mixed Fossil and Nonfossil</text><text class="key" x="990" y="648">Energy Flow</text>
<circle cx="965" cy="673" r="7" fill="#ff6600"/><text class="key" x="981" y="672">By-products (see Note) with</text><text class="key" x="981" y="682">Environmental Consequences</text>
<path d="M954,697H983" class="l lo"/><text class="key" x="990" y="700">By-Products (see Note)</text>
</g>

<!-- Note -->
<g id="note">
<text x="96" y="1382" font-weight="bold" font-size="14">NOTE:</text>
<text class="nt" x="153" y="1379" textLength="864" lengthAdjust="spacingAndGlyphs">Emissions and waste by-products may be associated with venting/flaring during resource recovery, direct and indirect production processes, transport of products, refueling of vehicles, and combustion.</text>
<text class="nt" x="166" y="1390" textLength="723" lengthAdjust="spacingAndGlyphs">Emissions include all gases that collect in the atmosphere: H<tspan font-size="6" dy="2">2</tspan><tspan dy="-2">O, CO</tspan><tspan font-size="6" dy="2">2</tspan><tspan dy="-2">, CO, CH</tspan><tspan font-size="6" dy="2">4</tspan><tspan dy="-2">, N</tspan><tspan font-size="6" dy="2">2</tspan><tspan dy="-2">O, NO</tspan><tspan font-size="6" dy="2">x</tspan><tspan dy="-2">, SO</tspan><tspan font-size="6" dy="2">2</tspan><tspan dy="-2">, chlorofluorocarbons, volatile organic carbons, particulates, soot and aerosols.</tspan></text>
<text class="nt" x="166" y="1401" textLength="793" lengthAdjust="spacingAndGlyphs">Waste by-products include: water/brines from natural sources and processes, drilling muds, tailings, leachates, toxic and hazardous waste streams, heavy metals, ash, slag, and objects</text>
<text class="nt" x="166" y="1412" textLength="215" lengthAdjust="spacingAndGlyphs">which have reached the end of their useable lives.</text>
<text class="nt" x="153" y="1423" textLength="492" lengthAdjust="spacingAndGlyphs">Radioactive waste by-products come from naturally occurring sources, nuclear reactors, and nuclear accelerators.</text>
<text class="nt" x="153" y="1434" textLength="460" lengthAdjust="spacingAndGlyphs">Direct Uses may compete for resources, represent important value-added or strategic by-products, or both.</text>
<text class="nt" x="153" y="1445" textLength="659" lengthAdjust="spacingAndGlyphs">Fresh water requirements may exist at each node; energy and water are tightly entertwined strategic goods. Blending and stocks may exist at each node.</text>
<text class="nt" x="153" y="1455" textLength="130" lengthAdjust="spacingAndGlyphs">Externalities are not included.</text>
<text class="nt" x="153" y="1470" textLength="697" lengthAdjust="spacingAndGlyphs">SOURCE: Energy Information Administration “Education Committee” &amp; Office of Information Technology, EI-10, U.S. Department of Energy, Washington, D.C. 20585</text>
<text class="nt" x="1011" y="1470" textLength="89" lengthAdjust="spacingAndGlyphs">V15 - August 26, 2007</text>
</g>
</svg>
